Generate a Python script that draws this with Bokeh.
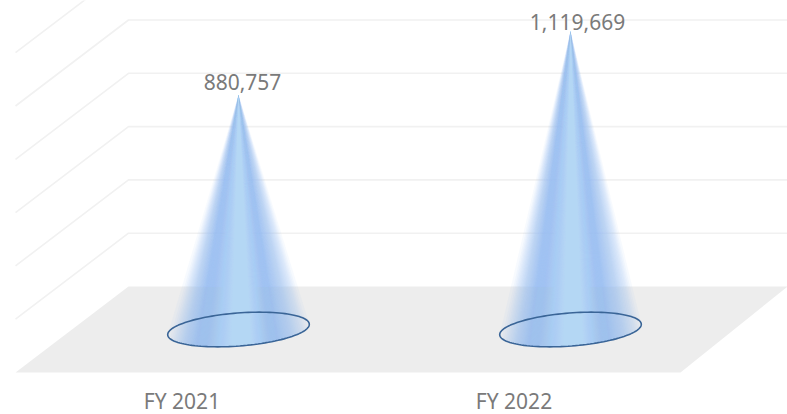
import numpy as np
from bokeh.plotting import figure
from bokeh.models import Range1d, ColumnDataSource
from bokeh.core.properties import value
from bokeh.embed import file_html
from bokeh.resources import INLINE

# --- data ---
categories = ["FY 2021", "FY 2022"]
series_values = [880757, 1119669]
value_labels = ["880,757", "1,119,669"]
grid_values = [200000, 400000, 600000, 800000, 1000000, 1200000]

# --- layout (pixels on the page) ---
PX_PER_CAT = 332.0
PX_PER_UNIT = 266.5 / 1e6
W, H = 787, 414
LEFT_PX, TOP_PX = 0, 0
CAT0_PX = 238.0
FLOOR_PX = 286.0
x0 = (LEFT_PX - CAT0_PX) / PX_PER_CAT
x1 = (LEFT_PX + W - CAT0_PX) / PX_PER_CAT
y1 = (FLOOR_PX - TOP_PX) / PX_PER_UNIT
y0 = (FLOOR_PX - TOP_PX - H) / PX_PER_UNIT
dx_u = lambda px: px / PX_PER_CAT
dy_u = lambda px: px / PX_PER_UNIT

p = figure(width=W, height=H, output_backend="svg", toolbar_location=None,
           x_range=Range1d(x0, x1), y_range=Range1d(y0, y1),
           min_border=0, outline_line_color=None, background_fill_color="white",
           border_fill_color="white")
p.axis.visible = False
p.grid.visible = False

# 3D box geometry: wall starts at category-space x, floor depth goes down-left
WALL_X = dx_u(128 - CAT0_PX)
END_X = dx_u(800 - CAT0_PX)
DEPTH_X = dx_u(-113)
DEPTH_Y = dy_u(-86)

p.patch([WALL_X, dx_u(787 - CAT0_PX), dx_u(680 - CAT0_PX), WALL_X + DEPTH_X],
        [0, 0, DEPTH_Y, DEPTH_Y], fill_color="#ededed", line_color=None)

p.multi_line([[WALL_X + DEPTH_X, WALL_X, END_X] for g in grid_values],
             [[g + DEPTH_Y, g, g] for g in grid_values],
             line_color="#f1f1f1", line_width=1.6)

# --- cones: nested translucent layers build a smooth sideways gradient ---
LAYER_A = 0.08
K = 64
LEFT_A = [0.0, 0.30, 0.60, 0.85]
LEFT_T = [-1.0, -0.90, -0.78, -0.62]
RIGHT_A = [0.0, 0.30, 0.60, 0.85]
RIGHT_T = [1.0, 0.90, 0.75, 0.55]
C_EDGE = np.array([152, 190, 238])
C_CORE = np.array([196, 230, 255])
CORE_T, CORE_HALF = 0.02, 0.14
A_PX, B_PX, TILT = 71.0, 16.5, np.deg2rad(4.4)
BASE_Y = DEPTH_Y / 2


def base_point(theta):
    u, v = A_PX * np.cos(theta), B_PX * np.sin(theta)
    return (u * np.cos(TILT) - v * np.sin(TILT),
            u * np.sin(TILT) + v * np.cos(TILT))


cum = 1 - (1 - LAYER_A) ** np.arange(K)
k0 = int(np.searchsorted(cum, LEFT_A[-1]))
layers = []
for k in range(K):
    if k < k0:
        tl = np.interp(cum[k], LEFT_A, LEFT_T)
        tr = np.interp(cum[k], RIGHT_A, RIGHT_T)
        f = 0.0
    else:
        f = (k - k0) / (K - 1 - k0)
        tl = LEFT_T[-1] + (CORE_T - CORE_HALF - LEFT_T[-1]) * f
        tr = RIGHT_T[-1] + (CORE_T + CORE_HALF - RIGHT_T[-1]) * f
    layers.append((tl, tr, C_EDGE + (C_CORE - C_EDGE) * f ** 0.6))

for i, v in enumerate(series_values):
    xs, ys, cols = [], [], []
    for tl, tr, c in layers:
        tt = np.linspace(tl, tr, 41)
        bx, by = base_point(-np.arccos(tt))
        xs.append([i] + list(i + dx_u(bx)))
        ys.append([v + BASE_Y] + list(BASE_Y + dy_u(by)))
        cols.append("#%02x%02x%02x" % tuple(int(q) for q in c))
    p.patches(xs, ys, fill_color=cols, fill_alpha=LAYER_A, line_color=None)

    th = np.linspace(0, 2 * np.pi, 121)
    ex, ey = base_point(th)
    p.line(i + dx_u(ex), BASE_Y + dy_u(ey), line_color="#3a6597", line_width=1.6)

# --- labels ---
src = ColumnDataSource(dict(x=list(range(len(series_values))),
                            y=[v + BASE_Y for v in series_values],
                            t=value_labels, dx=[4, 7], dy=[-13, -9]))
p.text("x", "y", text="t", source=src, x_offset="dx", y_offset="dy",
       text_font=value("Noto Sans"), text_font_size="21px", text_color="#7a7a7a",
       text_align="center", text_baseline="middle")

src2 = ColumnDataSource(dict(x=[i + DEPTH_X / 2 for i in range(len(categories))],
                             y=[dy_u(286 - 400)] * len(categories), t=categories))
p.text("x", "y", text="t", source=src2,
       text_font=value("Noto Sans"), text_font_size="21px", text_color="#7a7a7a",
       text_align="center", text_baseline="middle")

open("out.html", "w").write(file_html(p, INLINE))
